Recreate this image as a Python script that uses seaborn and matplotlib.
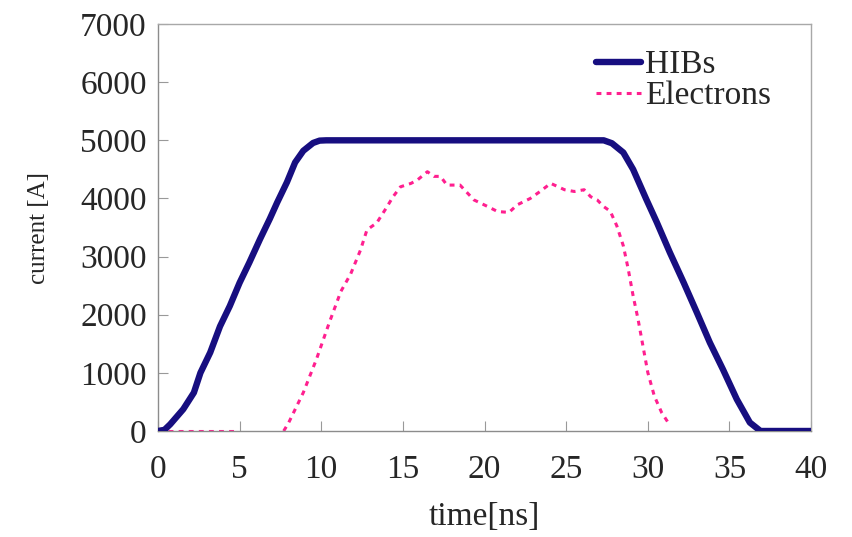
import numpy as np
import pandas as pd
import seaborn as sns
import matplotlib.pyplot as plt
from matplotlib.lines import Line2D

# HIBs beam current [A] vs time [ns]
hib_t = [0, 0.4, 0.75, 1.55, 2.2, 2.6, 3.2, 3.8, 4.4, 5.0, 5.6, 6.25, 6.85, 7.3, 7.9,
         8.4, 8.9, 9.5, 9.9, 10.3, 27.3, 27.8, 28.5, 29.1, 29.9, 30.55, 31.35, 32.2, 33.0,
         33.8, 34.6, 35.45, 36.25, 36.9, 40]
hib_i = [0, 20, 115, 375, 660, 1000, 1350, 1800, 2150, 2550, 2900, 3300, 3650, 3930, 4280,
         4620, 4820, 4955, 4995, 5000, 5000, 4950, 4790, 4500, 3990, 3590, 3070, 2550, 2040,
         1520, 1060, 545, 145, 0, 0]

# electron current, drawn in three separate pieces
el_start_t = [0, 4.8]
el_start_i = [0, 0]
el_t = [7.7, 8.0, 8.9, 9.7, 10.5, 11.2, 11.8, 12.4, 12.8, 13.4, 13.9, 14.4, 14.85, 15.5,
        15.9, 16.5, 16.9, 17.3, 17.7, 18.5, 19.35, 20.2, 20.8, 21.5, 22.0, 22.8, 23.4,
        24.05, 24.9, 25.5, 26.1, 26.5, 26.9, 27.3, 27.7, 28.1, 28.5, 28.8, 29.1, 29.4,
        29.7, 30.0, 30.4, 30.85, 31.35]
el_i = [0, 140, 660, 1230, 1870, 2400, 2700, 3110, 3460, 3580, 3800, 4030, 4200, 4260,
        4320, 4460, 4380, 4380, 4230, 4230, 3975, 3860, 3775, 3760, 3890, 4000, 4120,
        4260, 4150, 4120, 4150, 4030, 3975, 3860, 3780, 3530, 3185, 2785, 2325, 1925,
        1465, 1005, 600, 315, 100]
el_end_t = [37.0, 40]
el_end_i = [0, 0]

xticks = list(range(0, 41, 5))
yticks = list(range(0, 7001, 1000))

blue = "#170e80"
pink = "#ff1f8f"

sns.set_style("white")
plt.rcParams["font.family"] = ["Liberation Serif", "DejaVu Serif"]

hib = pd.DataFrame({"time": hib_t, "current": hib_i})
el = pd.concat([
    pd.DataFrame({"time": el_start_t, "current": el_start_i, "seg": 0}),
    pd.DataFrame({"time": el_t, "current": el_i, "seg": 1}),
    pd.DataFrame({"time": el_end_t, "current": el_end_i, "seg": 2}),
])

fig = plt.figure(figsize=(8.52, 5.37), dpi=100)
ax = fig.add_axes([0.1854, 0.1974, 0.7666, 0.7578])

sns.lineplot(data=el, x="time", y="current", units="seg", estimator=None, sort=False,
             color=pink, linewidth=2.2, dashes=False, ax=ax, zorder=2)
for ln in ax.get_lines():
    ln.set_dashes((1.6, 1.7))
sns.lineplot(data=hib, x="time", y="current", estimator=None, sort=False,
             color=blue, linewidth=4.6, ax=ax, zorder=3)

ax.set_xlim(0, 40)
ax.set_ylim(0, 7000)
ax.set_xticks(xticks)
ax.set_yticks(yticks)
ax.tick_params(axis="y", direction="in", length=7, width=0.8, color="#999999",
               labelsize=24, pad=8, left=True)
ax.tick_params(axis="x", direction="in", length=7, width=0.8, color="#999999",
               labelsize=24, pad=17, bottom=True)
for s in ax.spines.values():
    s.set_color("#a8a8a8")
    s.set_linewidth(1.0)
ax.spines["left"].set_color("#8c8c8c")
ax.spines["bottom"].set_color("#8c8c8c")

ax.set_xlabel("time[ns]", fontsize=24, labelpad=12)
ax.set_ylabel("current [A]", fontsize=18, labelpad=22)

handles = [Line2D([], [], color=blue, linewidth=4.6),
           Line2D([], [], color=pink, linewidth=2.2, dashes=(1.6, 1.7))]
ax.legend(handles, ["HIBs", "Electrons"], loc="upper left",
          bbox_to_anchor=(0.671, 0.937), frameon=False, fontsize=24,
          borderpad=0, borderaxespad=0, handlelength=1.35, handletextpad=0.12,
          labelspacing=0.02)

fig.savefig("out.png", dpi=100)
